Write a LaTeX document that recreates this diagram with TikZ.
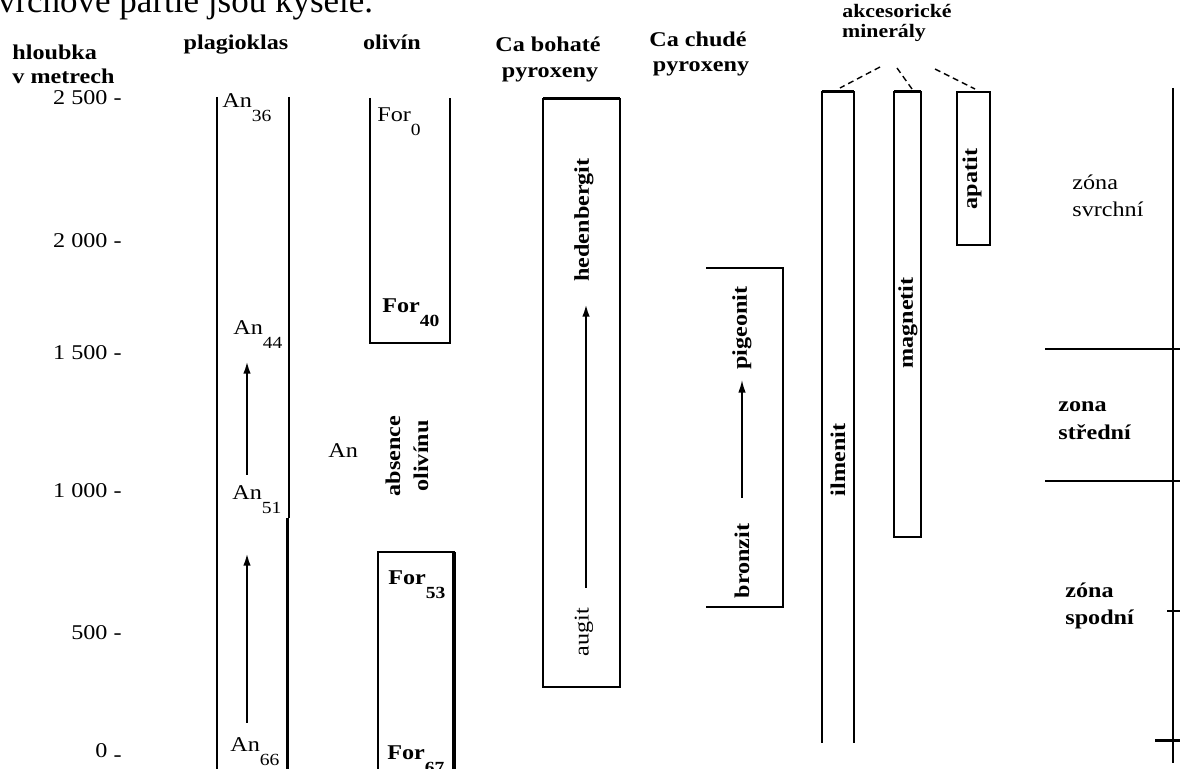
\documentclass[tikz,border=0pt]{standalone}
\usepackage{fontspec}
\setmainfont{Liberation Serif}
\newfontfamily\widefont[FakeStretch=1.15]{Liberation Serif}
\usetikzlibrary{arrows.meta, positioning}
\newcommand{\lowsub}[1]{\raisebox{-7pt}{\fontsize{8.5}{9}\selectfont #1}}
\tikzset{
  txt/.style={font=\widefont\fontsize{10.5}{14}\selectfont, inner sep=0pt, anchor=base west},
  btxt/.style={txt, font=\widefont\fontsize{10.5}{14}\selectfont\bfseries},
  head/.style={btxt, anchor=base},
  depth/.style={txt, anchor=base east},
  vtxt/.style={font=\widefont\fontsize{10.5}{14}\selectfont\bfseries, inner sep=0pt, rotate=90, align=center},
  thinln/.style={line width=0.75pt},
  thickln/.style={line width=1.5pt},
  trend/.style={-{Latex[length=2.4mm,width=1.3mm]}, line width=1.4pt},
  guide/.style={line width=0.7pt, dash pattern=on 3pt off 2pt}
}
\begin{document}
\begin{tikzpicture}[x=0.5pt, y=-0.5pt]
  \useasboundingbox (0,0) rectangle (1180,769);
  % text running on from above
  \node[anchor=base west, inner sep=0pt, font=\fontsize{17.5}{19}\selectfont] (intro) at (-16,13) {svrchové partie jsou kyselé.};
  % depth scale
  \node[btxt] (hl1) at (12,60) {hloubka};
  \node[btxt] (hl2) at (12,84) {v metrech};
  \foreach \d/\y in {2 500/105, 2 000/248, 1 500/360, 1 000/498, 500/640}
    \node[depth] (d\y) at (122,\y) {\d\ -};
  \node[depth] (d0) at (122,758) {0 \raisebox{-0.35ex}{-}};
  % column heads
  \node[head] (plag) at (236,50) {plagioklas};
  \node[head] (oliv) at (392,50) {olivín};
  \node[head] (cab1) at (548,52) {Ca bohaté};
  \node[head] (cab2) at (550,78) {pyroxeny};
  \node[head] (cach1) at (698,47) {Ca chudé};
  \node[head] (cach2) at (701,72) {pyroxeny};
  \node[head, font=\widefont\fontsize{9.5}{11}\selectfont\bfseries] (akc1) at (897,18) {akcesorické};
  \node[head, font=\widefont\fontsize{9.5}{11}\selectfont\bfseries] (akc2) at (884,38) {minerály};

  % plagioklas
  \draw[thinln] (217,97) -- (217,769);
  \draw[thinln] (289,97) -- (289,518);
  \draw[thickln] (287,518) -- (287,769);
  \node[txt] (an36) at (222,108) {An\lowsub{36}};
  \node[txt] (an44) at (233,335) {An\lowsub{44}};
  \node[txt] (an51) at (232,500) {An\lowsub{51}};
  \node[txt] (an66) at (230,752) {An\lowsub{66}};
  \coordinate (pa1) at (247,475);
  \coordinate (pb1) at (247,360);
  \coordinate (pa2) at (247,723);
  \coordinate (pb2) at (247,552);
  \draw[trend] (pa1) -- (pb1);
  \draw[trend] (pa2) -- (pb2);

  % olivin
  \draw[thinln] (370,98) -- (370,343) -- (450,343) -- (450,98);
  \draw[line width=1.1pt] (454,769) -- (454,552) -- (378,552) -- (378,769);
  \draw[line width=2pt] (454,552) -- (454,769);
  \node[txt] (fo0) at (377,122) {For\lowsub{0}};
  \node[btxt] (fo40) at (382,313) {For\lowsub{40}};
  \node[btxt] (fo53) at (388,585) {For\lowsub{53}};
  \node[btxt] (fo67) at (387,760) {For\lowsub{67}};
  \node[txt] (angap) at (328,458) {An};
  \node[vtxt] (gap) at (407,456) {absence\\olivínu};

  % Ca bohate pyroxeny
  \draw[thinln] (543,99) rectangle (620,687);
  \draw[thickln] (543,99) -- (620,99);
  \node[vtxt] (hed) at (584,220) {hedenbergit};
  \node[vtxt, font=\widefont\fontsize{10.5}{14}\selectfont] (aug) at (584,632) {augit};
  \coordinate (ca1) at (586,588);
  \coordinate (cb1) at (586,303);
  \draw[trend] (ca1) -- (cb1);

  % Ca chude pyroxeny
  \draw[thinln] (706,268) -- (783,268) -- (783,607) -- (706,607);
  \node[vtxt] (pig) at (742,328) {pigeonit};
  \node[vtxt] (bro) at (742,561) {bronzit};
  \coordinate (cc1) at (742,498);
  \coordinate (cd1) at (742,380);
  \draw[-{Latex[length=2.2mm,width=1.3mm]}, thinln] (cc1) -- (cd1);

  % akcesoricke mineraly
  \draw[thinln] (822,743) -- (822,92) -- (854,92) -- (854,743);
  \draw[thickln] (822,92) -- (854,92);
  \draw[thinln] (894,92) rectangle (921,537);
  \draw[thickln] (894,92) -- (921,92);
  \draw[line width=1.2pt] (957,92) rectangle (990,245);
  \node[vtxt] (ilm) at (838,460) {ilmenit};
  \node[vtxt] (mag) at (908,323) {magnetit};
  \node[vtxt] (apa) at (972,179) {apatit};
  \coordinate (g1a) at (880,67);
  \coordinate (g1b) at (840,88);
  \coordinate (g2a) at (897,68);
  \coordinate (g2b) at (912,89);
  \coordinate (g3a) at (935,69);
  \coordinate (g3b) at (975,89);
  \draw[guide] (g1a) -- (g1b);
  \draw[guide] (g2a) -- (g2b);
  \draw[guide] (g3a) -- (g3b);

  % zones
  \draw[thinln] (1173,88) -- (1173,763);
  \draw[thinln] (1045,349) -- (1180,349);
  \draw[thinln] (1045,481) -- (1180,481);
  \draw[thinln] (1167,611) -- (1180,611);
  \draw[thickln] (1155,741) -- (1180,741);
  \node[txt] (zs1) at (1072,190) {zóna};
  \node[txt] (zs2) at (1072,217) {svrchní};
  \node[btxt] (zm1) at (1058,412) {zona};
  \node[btxt] (zm2) at (1058,440) {střední};
  \node[btxt] (zl1) at (1065,598) {zóna};
  \node[btxt] (zl2) at (1065,625) {spodní};
\end{tikzpicture}
\end{document}
